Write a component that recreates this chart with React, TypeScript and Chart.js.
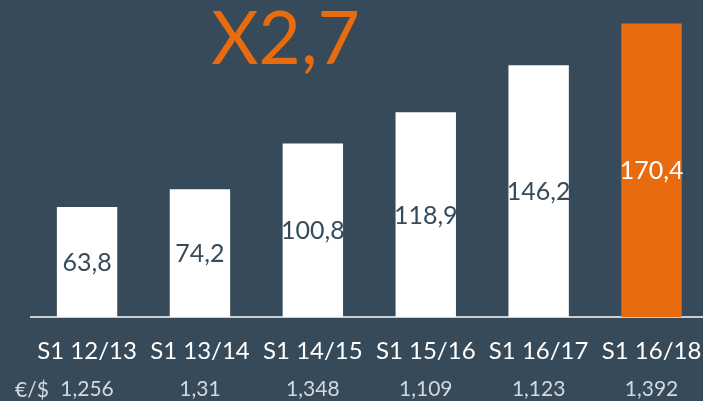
import React, { useEffect, useRef } from "react";
import { Chart, registerables } from "chart.js";

Chart.register(...registerables);

const categories = ["S1 12/13", "S1 13/14", "S1 14/15", "S1 15/16", "S1 16/17", "S1 16/18"];
const revenue = [63.8, 74.2, 100.8, 118.9, 146.2, 170.4];
const rates = ["1,256", "1,31", "1,348", "1,109", "1,123", "1,392"];
const rateLabel = "€/$";
const headline = "X2,7";

const BG = "#364a59";
const ORANGE = "#e96b10";
const WHITE = "#ffffff";
const RATE_GREY = "#d3d9de";
const FONT = "Lato";

const fmt = (v: number) => v.toFixed(1).replace(".", ",");

export default function App() {
  const ref = useRef<HTMLCanvasElement | null>(null);

  useEffect(() => {
    document.body.style.margin = "0";
    document.body.style.background = BG;
    document.body.style.overflow = "hidden";
    const canvas = ref.current;
    if (!canvas) return;
    const last = revenue.length - 1;

    const overlay = {
      id: "overlay",
      afterDatasetsDraw(chart: any) {
        const ctx = chart.ctx;
        const meta = chart.getDatasetMeta(0);
        meta.data.forEach((bar: any, i: number) => {
          const p = bar.getProps(["x", "y", "base"], true);
          ctx.save();
          ctx.font = `25px ${FONT}`;
          ctx.fillStyle = i === last ? WHITE : BG;
          ctx.textAlign = "center";
          ctx.textBaseline = "middle";
          ctx.fillText(fmt(revenue[i]), p.x, (p.y + p.base) / 2 + 1);
          ctx.restore();
        });
        ctx.save();
        ctx.font = `73px ${FONT}`;
        ctx.fillStyle = ORANGE;
        ctx.textAlign = "center";
        ctx.textBaseline = "alphabetic";
        ctx.fillText(headline, 285.5, 64);
        ctx.restore();
      },
      afterDraw(chart: any) {
        const ctx = chart.ctx;
        ctx.save();
        ctx.font = `21px ${FONT}`;
        ctx.fillStyle = RATE_GREY;
        ctx.textAlign = "left";
        ctx.textBaseline = "alphabetic";
        ctx.fillText(rateLabel, 15, 396.5);
        ctx.restore();
      },
    };

    const chart = new Chart(canvas, {
      type: "bar",
      data: {
        labels: categories,
        datasets: [
          {
            data: revenue,
            backgroundColor: revenue.map((_, i) => (i === last ? ORANGE : WHITE)),
            borderWidth: 0,
            categoryPercentage: 1,
            barPercentage: 0.535,
          },
        ],
      },
      options: {
        responsive: false,
        animation: false,
        layout: { padding: { left: 30.6, right: 0, top: 7, bottom: 0 } },
        plugins: { legend: { display: false }, tooltip: { enabled: false } },
        scales: {
          y: { display: false, min: 0, max: 180 },
          x: {
            weight: 0,
            offset: true,
            grid: { display: false, drawTicks: false },
            border: { display: true, color: "#c9cfd3", width: 2 },
            ticks: { color: WHITE, font: { family: FONT, size: 24 }, padding: 20 },
            afterFit: (s: any) => {
              s.height = 45;
              s.paddingLeft = 0;
              s.paddingRight = 0;
            },
          },
          x2: {
            type: "category",
            position: "bottom",
            weight: 1,
            offset: true,
            labels: rates,
            grid: { display: false, drawTicks: false },
            border: { display: false },
            ticks: { color: RATE_GREY, font: { family: FONT, size: 21 }, padding: 15 },
            afterFit: (s: any) => {
              s.height = 39;
              s.paddingLeft = 0;
              s.paddingRight = 0;
            },
          },
        },
      },
      plugins: [overlay],
    });
    return () => chart.destroy();
  }, []);

  return (
    <div style={{ width: 703, height: 401, background: BG, overflow: "hidden" }}>
      <canvas ref={ref} width={708} height={401} style={{ display: "block" }} />
    </div>
  );
}
